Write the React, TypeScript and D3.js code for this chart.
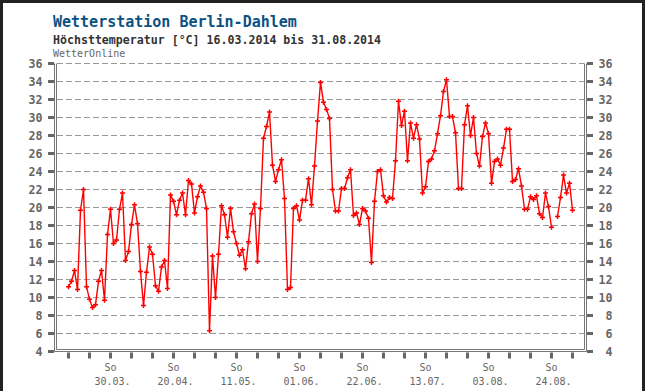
import { useEffect, useRef } from "react";
import * as d3 from "d3";

// Tägliche Höchsttemperatur [°C], 16.03.2014 – 31.08.2014 (null = kein Wert)
const START = Date.UTC(2014, 2, 16);
const END = Date.UTC(2014, 7, 31);

const TEMPS: (number | null)[] = [
  11.2, 11.8, 13.0, 10.9, 19.7, 22.0, 11.2, 9.8, 8.9, 9.2,
  11.8, 13.0, 9.7, 17.0, 19.8, 16.0, 16.4, 19.8, 21.6, 14.1,
  15.1, 18.1, 20.3, 18.2, 12.9, 9.1, 12.8, 15.6, 14.8, 11.3,
  10.7, 13.4, 14.1, 11.0, 21.4, 20.7, 19.2, 20.8, 21.6, 19.2,
  23.0, 22.6, 19.4, 21.2, 22.4, 21.7, 19.9, 6.3, 14.6, 10.0,
  14.8, 20.2, 19.2, 16.7, 19.9, 17.3, 16.0, 14.7, 15.3, 13.2,
  16.2, 19.3, 20.4, 14.0, 19.9, 27.7, 29.0, 30.6, 24.7, 22.9,
  24.2, 25.3, 21.0, 10.9, 11.1, 19.9, 20.2, 18.6, 20.8, 20.8,
  23.2, 20.3, 24.6, 29.6, 33.9, 31.7, 30.9, 29.9, 22.0, 19.6,
  19.6, 22.1, 22.1, 23.3, 24.2, 19.1, 19.4, 18.1, 19.9, 19.6,
  18.8, 13.9, 20.7, 24.0, 24.2, 21.3, 20.6, 21.1, 21.0, 25.2,
  31.8, 29.1, 30.7, 25.2, 29.4, 27.7, 29.2, 27.6, 21.6, 22.3,
  25.1, 25.4, 26.3, 28.2, 30.2, 32.9, 34.2, 30.1, 30.1, 28.3,
  22.1, 22.1, 29.2, 31.3, 28.0, 30.0, 26.0, 24.6, 27.9, 29.4,
  28.2, 22.7, 25.1, 25.4, 24.7, 26.6, 28.7, 28.7, 22.9, 23.1,
  24.3, 22.4, 19.8, 19.8, 21.2, 20.9, 21.3, 19.3, 18.9, 21.6,
  20.1, 17.8, null, 19.0, 21.1, 23.6, 21.6, 22.7, 19.7,
];

const Y_TICKS = d3.range(4, 37, 2);
const LABEL_DATES = ["30.03.", "20.04.", "11.05.", "01.06.", "22.06.", "13.07.", "03.08.", "24.08."];

const MONO = "'DejaVu Sans Mono', 'Liberation Mono', monospace";

export default function App() {
  const svgRef = useRef<SVGSVGElement>(null);

  useEffect(() => {
    if (!svgRef.current) return;
    const svg = d3.select(svgRef.current);
    svg.selectAll("*").remove();

    const width = 645;
    const height = 391;

    const points = TEMPS.map((v, i) => ({ date: d3.utcDay.offset(new Date(START), i), v }));

    const x = d3.scaleUtc().domain([new Date(START), new Date(END)]).range([68.5, 572.5]);
    const y = d3.scaleLinear().domain([4, 36]).range([351.5, 63.5]);

    svg.append("rect").attr("width", width).attr("height", height).attr("fill", "#fff");

    // dunkler Rahmen oben/links/rechts
    svg.append("rect").attr("x", 0).attr("y", 0).attr("width", width).attr("height", 3).attr("fill", "#222");
    svg.append("rect").attr("x", 0).attr("y", 0).attr("width", 3).attr("height", height).attr("fill", "#222");
    svg.append("rect").attr("x", 642).attr("y", 0).attr("width", 3).attr("height", height).attr("fill", "#222");

    // Titel
    svg.append("text")
      .attr("x", 53).attr("y", 27)
      .attr("fill", "#0b5283").attr("font-size", "15px").attr("font-weight", "700")
      .attr("font-family", MONO)
      .text("Wetterstation Berlin-Dahlem");
    svg.append("text")
      .attr("x", 53).attr("y", 44)
      .attr("fill", "#333").attr("font-size", "11.6px").attr("font-weight", "700")
      .attr("font-family", MONO)
      .text("Höchsttemperatur [°C] 16.03.2014 bis 31.08.2014");
    svg.append("text")
      .attr("x", 53).attr("y", 57)
      .attr("fill", "#666").attr("font-size", "10px")
      .attr("font-family", MONO)
      .text("WetterOnline");

    // Gitterlinien
    Y_TICKS.filter((t) => t > 4).forEach((t) => {
      svg.append("line")
        .attr("x1", 57).attr("x2", 584).attr("y1", y(t)).attr("y2", y(t))
        .attr("stroke", "#999").attr("stroke-width", 1).attr("stroke-dasharray", "6,3");
    });

    // Doppelrahmen (links, rechts, unten)
    const frame = svg.append("g").attr("fill", "none").attr("stroke", "#777").attr("stroke-width", 1);
    frame.append("path").attr("d", `M54.5,${y(36)}V351.5H586.5V${y(36)}`);
    frame.append("path").attr("d", `M56.5,${y(36)}V349.5H584.5V${y(36)}`);

    // y-Achsen beidseitig
    Y_TICKS.forEach((t) => {
      svg.append("rect").attr("x", 48).attr("y", y(t) - 1.5).attr("width", 6).attr("height", 3).attr("fill", "#666");
      svg.append("rect").attr("x", 587).attr("y", y(t) - 1.5).attr("width", 6).attr("height", 3).attr("fill", "#666");
      [42.5, 612.5].forEach((lx) => {
        svg.append("text")
          .attr("x", lx).attr("y", y(t) + 4)
          .attr("text-anchor", "end")
          .attr("fill", "#666").attr("font-size", "11.6px").attr("font-weight", "700")
          .attr("font-family", MONO)
          .text(String(t));
      });
    });

    // x-Achse: Sonntage
    const sundays = d3.utcSunday.range(new Date(START), d3.utcDay.offset(new Date(END), 1));
    sundays.forEach((d, i) => {
      svg.append("rect").attr("x", x(d) - 1.5).attr("y", 352.5).attr("width", 3).attr("height", 6).attr("fill", "#666");
      if (i % 3 === 2) {
        const label = LABEL_DATES[(i - 2) / 3];
        if (!label) return;
        svg.append("text")
          .attr("x", x(d)).attr("y", 371)
          .attr("text-anchor", "middle")
          .attr("fill", "#666").attr("font-size", "10px")
          .attr("font-family", MONO)
          .text("So");
        svg.append("text")
          .attr("x", x(d) + 2).attr("y", 385)
          .attr("text-anchor", "middle")
          .attr("fill", "#666").attr("font-size", "10px")
          .attr("font-family", MONO)
          .text(label);
      }
    });

    // Temperaturkurve
    const line = d3.line<{ date: Date; v: number | null }>()
      .defined((d) => d.v !== null)
      .x((d) => x(d.date))
      .y((d) => y(d.v as number));

    svg.append("path")
      .datum(points)
      .attr("d", line)
      .attr("fill", "none")
      .attr("stroke", "#ff0000")
      .attr("stroke-width", 1.4);

    const marks = svg.append("g").attr("stroke", "#ff0000").attr("stroke-width", 1.5);
    points.filter((p) => p.v !== null).forEach((p) => {
      const cx = x(p.date);
      const cy = y(p.v as number);
      marks.append("path").attr("d", `M${cx - 2.5},${cy}H${cx + 2.5}M${cx},${cy - 2.5}V${cy + 2.5}`);
    });
  }, []);

  return (
    <div style={{ position: "absolute", left: 0, top: 0 }}>
      <svg ref={svgRef} width={645} height={391} style={{ display: "block" }} />
    </div>
  );
}
